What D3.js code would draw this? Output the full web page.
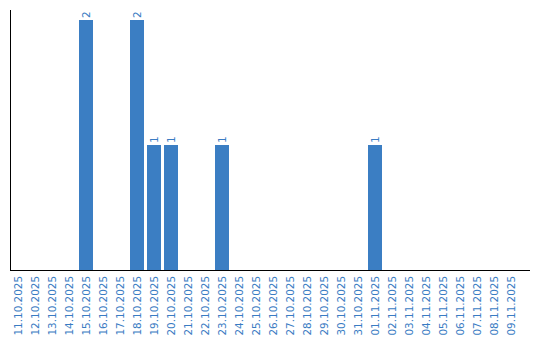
<!DOCTYPE html>
<meta charset="utf-8">
<style>
  body { margin: 0; background: #fff; }
  .label { font-family: 'DejaVu Sans', Verdana, sans-serif; font-size: 10.4px; fill: #3a7cc3; }
  .bar { fill: #3b7ec3; }
  .axis-line { stroke: #000; stroke-width: 1; shape-rendering: crispEdges; }
</style>
<body>
<script src="https://cdn.jsdelivr.net/npm/d3@7"></script>
<script>

var width = 540,
    height = 340;

// days shown on the x axis
var days = ["11.10.2025","12.10.2025","13.10.2025","14.10.2025","15.10.2025","16.10.2025",
            "17.10.2025","18.10.2025","19.10.2025","20.10.2025","21.10.2025","22.10.2025",
            "23.10.2025","24.10.2025","25.10.2025","26.10.2025","27.10.2025","28.10.2025",
            "29.10.2025","30.10.2025","31.10.2025","01.11.2025","02.11.2025","03.11.2025",
            "04.11.2025","05.11.2025","06.11.2025","07.11.2025","08.11.2025","09.11.2025"];

// count per day
var counts = [0,0,0,0,2,0,0,2,1,1,0,0,1,0,0,0,0,0,0,0,0,1,0,0,0,0,0,0,0,0];

var data = days.map(function(d, i) { return {day: d, value: counts[i]}; });

var x = d3.scaleBand()
    .domain(days)
    .range([9.5, 519.5])
    .paddingInner(3 / 17)
    .paddingOuter(1.5 / 17);

var y = d3.scaleLinear()
    .domain([0, 2])
    .range([270, 20]);

var svg = d3.select("body").append("svg")
    .attr("width", width)
    .attr("height", height);

svg.append("g")
  .selectAll("rect").data(data.filter(function(d) { return d.value > 0; }))
  .enter().append("rect")
    .attr("class", "bar")
    .attr("x", function(d) { return x(d.day); })
    .attr("width", x.bandwidth())
    .attr("y", function(d) { return y(d.value); })
    .attr("height", function(d) { return y(0) - y(d.value); });

// value labels above bars
svg.append("g")
  .selectAll("text").data(data.filter(function(d) { return d.value > 0; }))
  .enter().append("text")
    .attr("class", "label")
    .attr("text-anchor", "start")
    .attr("dy", "0.35em")
    .attr("transform", function(d) {
      return "translate(" + (x(d.day) + x.bandwidth() / 2) + "," + (y(d.value) - 2) + ") rotate(-90)";
    })
    .text(function(d) { return d.value; });

// axes lines
svg.append("line").attr("class", "axis-line")
    .attr("x1", 10.5).attr("x2", 10.5).attr("y1", 10).attr("y2", 270);
svg.append("line").attr("class", "axis-line")
    .attr("x1", 10).attr("x2", 530).attr("y1", 270.5).attr("y2", 270.5);

// x tick labels
svg.append("g")
  .selectAll("text").data(days)
  .enter().append("text")
    .attr("class", "label")
    .attr("text-anchor", "end")
    .attr("dy", "0.35em")
    .attr("transform", function(d) {
      return "translate(" + (x(d) + x.bandwidth() / 2) + ",276) rotate(-90)";
    })
    .text(function(d) { return d; });

</script>
